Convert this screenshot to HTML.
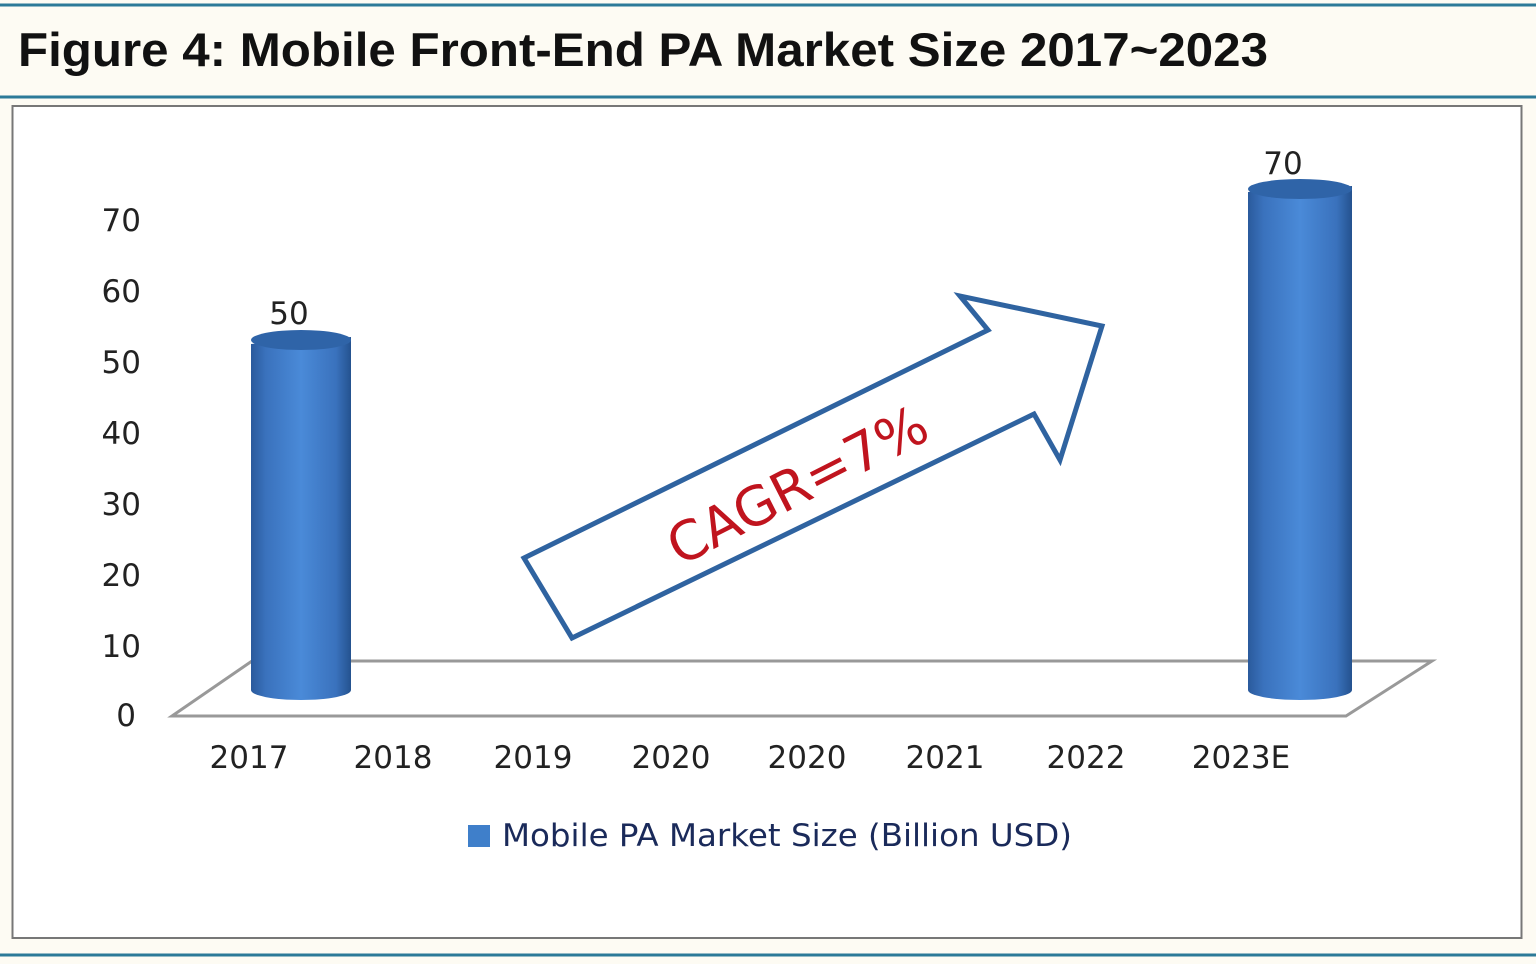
<!DOCTYPE html>
<html><head><style>
body{margin:0;background:#fdfbf3;}
svg{display:block;font-family:"DejaVu Sans","Liberation Sans",sans-serif;}
</style></head><body>
<svg width="1536" height="964" viewBox="0 0 1536 964">
<defs>
<linearGradient id="cyl" x1="0" x2="1" y1="0" y2="0">
<stop offset="0" stop-color="#2a5a9c"/><stop offset="0.15" stop-color="#3a72bd"/>
<stop offset="0.5" stop-color="#4a8ad8"/><stop offset="0.85" stop-color="#3a72bd"/>
<stop offset="1" stop-color="#24528f"/></linearGradient>
</defs>
<rect width="1536" height="964" fill="#fdfbf3"/>
<line x1="0" y1="5" x2="1536" y2="5" stroke="#2c7a98" stroke-width="3"/>
<line x1="0" y1="97" x2="1536" y2="97" stroke="#2c7a98" stroke-width="3"/>
<line x1="0" y1="955" x2="1536" y2="955" stroke="#2c7a98" stroke-width="3"/>
<text x="18" y="66" font-family="Liberation Sans,sans-serif" font-weight="bold" font-size="47" fill="#111" textLength="1250" lengthAdjust="spacingAndGlyphs">Figure 4: Mobile Front-End PA Market Size 2017~2023</text>
<rect x="12.5" y="106" width="1509" height="832" fill="#fff" stroke="#777" stroke-width="2"/>
<g font-size="31" fill="#222" text-anchor="end">
<text x="141" y="231">70</text><text x="141" y="302">60</text><text x="141" y="373">50</text>
<text x="141" y="444">40</text><text x="141" y="515">30</text><text x="141" y="586">20</text>
<text x="141" y="657">10</text><text x="136" y="726">0</text>
</g>
<polygon points="172,716 252,661 1432,661 1346,716" fill="none" stroke="#999" stroke-width="3"/>
<path d="M251,344 L251,690 A50,10 0 0 0 351,690 L351,337 Z" fill="url(#cyl)"/>
<ellipse cx="301" cy="340" rx="50" ry="10" fill="#2f64a8"/>
<path d="M1248,192 L1248,690 A52,10 0 0 0 1352,690 L1352,186 Z" fill="url(#cyl)"/>
<ellipse cx="1300" cy="189" rx="52" ry="10" fill="#2f64a8"/>
<text x="289" y="324" font-size="31" fill="#222" text-anchor="middle">50</text>
<text x="1283" y="174" font-size="31" fill="#222" text-anchor="middle">70</text>
<polygon points="524,558 988,330 960,296 1102,326 1060,460 1034,414 572,638" fill="#fff" stroke="#2f63a0" stroke-width="5" stroke-linejoin="miter"/>
<text x="0" y="0" font-size="54" fill="#c0141e" text-anchor="middle" transform="translate(806,502) rotate(-27)">CAGR=7%</text>
<g font-size="31" fill="#222" text-anchor="middle">
<text x="249" y="768">2017</text><text x="393" y="768">2018</text><text x="533" y="768">2019</text>
<text x="671" y="768">2020</text><text x="807" y="768">2020</text><text x="945" y="768">2021</text>
<text x="1086" y="768">2022</text><text x="1241" y="768">2023E</text>
</g>
<rect x="468" y="825" width="22" height="22" fill="#3f7fca"/>
<text x="502" y="846" font-size="31" fill="#1a2a5a" textLength="570" lengthAdjust="spacingAndGlyphs">Mobile PA Market Size (Billion USD)</text>
</svg>
</body></html>
